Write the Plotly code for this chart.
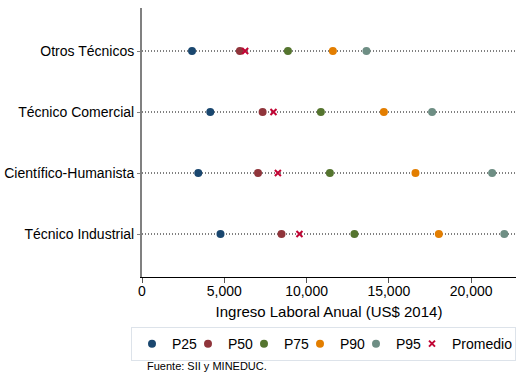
import plotly.graph_objects as go

# categories from bottom to top
categorias = ["Técnico Industrial", "Científico-Humanista", "Técnico Comercial", "Otros Técnicos"]

p25 = [4770, 3420, 4150, 3040]
p50 = [8480, 7050, 7330, 5950]
p75 = [12910, 11420, 10870, 8870]
p90 = [18040, 16620, 14700, 11600]
p95 = [22020, 21280, 17630, 13640]
promedio = [9570, 8260, 7990, 6270]

series = [
    ("P25", p25, "#1a476f"),
    ("P50", p50, "#90353b"),
    ("P75", p75, "#55752f"),
    ("P90", p90, "#e37e00"),
    ("P95", p95, "#6e8e84"),
]

font = "Liberation Sans, Arial, sans-serif"
ypos = list(range(len(categorias)))

fig = go.Figure()

# dotted guide line per category
for y in ypos:
    fig.add_hline(y=y, line=dict(color="black", width=1, dash="1px,2px"), layer="below")

for name, vals, color in series:
    fig.add_trace(go.Scatter(x=vals, y=ypos, mode="markers", name=name,
                             marker=dict(size=8, color=color, symbol="circle")))

fig.add_trace(go.Scatter(x=promedio, y=ypos, mode="markers", name="Promedio",
                         legendwidth=58,
                         marker=dict(size=6, color="#c10534", symbol="x-thin",
                                     line=dict(width=2, color="#c10534"))))

fig.add_annotation(text="Fuente: SII y MINEDUC.", xref="paper", yref="paper",
                   x=0.008, y=-0.301, xanchor="left", yanchor="top", showarrow=False,
                   font=dict(size=11, color="black", family=font))

fig.update_layout(
    width=516, height=376,
    margin=dict(l=142, r=0, t=8, b=99),
    paper_bgcolor="white", plot_bgcolor="white",
    font=dict(family=font, size=14, color="black"),
    showlegend=True,
    legend=dict(orientation="h", x=-0.024, xanchor="left", y=-0.186, yanchor="top",
                bordercolor="#dde3ea", borderwidth=1, font=dict(size=14),
                entrywidth=11, entrywidthmode="pixels"),
    xaxis=dict(range=[0, 22730], tickvals=[0, 5000, 10000, 15000, 20000],
               tickformat=",d", showgrid=False, zeroline=False,
               showline=True, linecolor="black", linewidth=1,
               ticks="outside", ticklen=5, tickcolor="#555555",
               ticklabelstandoff=-4,
               title=dict(text="Ingreso Laboral Anual (US$ 2014)", font=dict(size=15), standoff=8)),
    yaxis=dict(range=[-0.705, 3.705], tickvals=ypos, ticktext=categorias,
               showgrid=False, zeroline=False,
               showline=True, linecolor="#808080", linewidth=2,
               ticks="outside", ticklen=3, tickcolor="#808080"),
)

fig.write_html("out.html", config={"displayModeBar": False},
               post_script="document.body.style.margin='0';")
